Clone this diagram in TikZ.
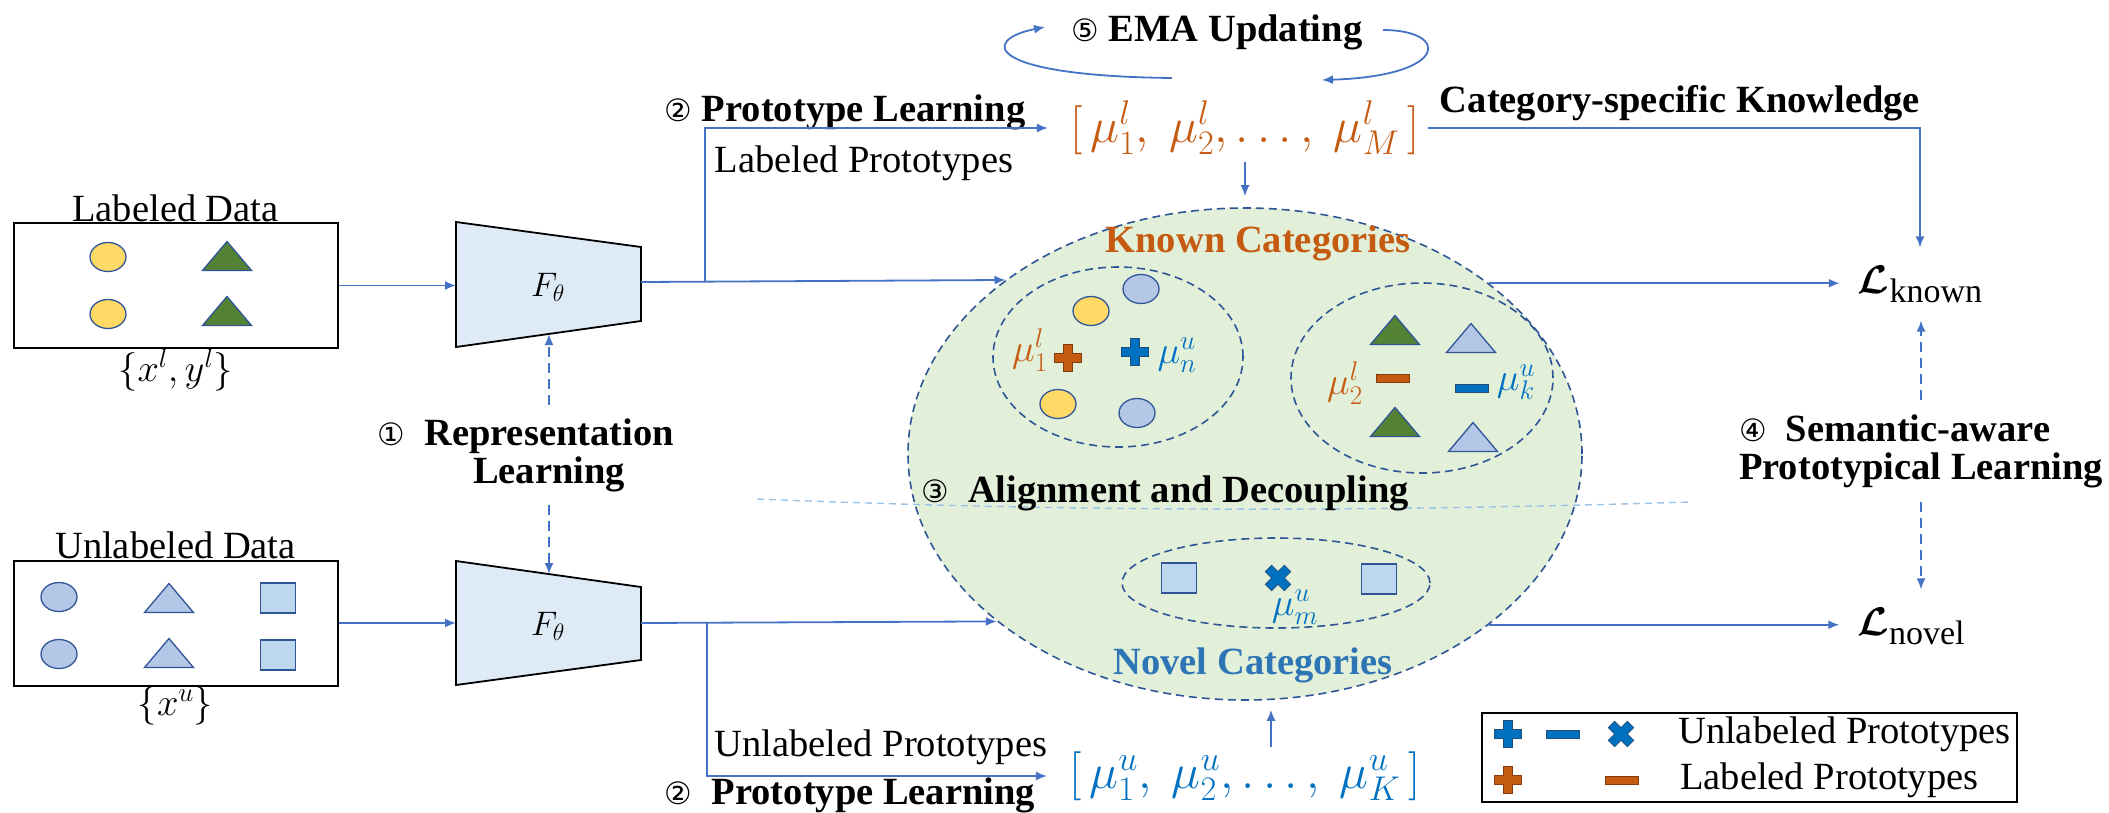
\RequirePackage{fix-cm}
\documentclass[tikz,border=0pt]{standalone}
\usepackage{fontspec}
\setmainfont{Liberation Serif}
\newfontfamily\circfont{DejaVu Sans}
\usepackage{amsmath}
\usepackage{bm}
\usepackage{tikz}
\usetikzlibrary{arrows.meta}
\usetikzlibrary{calc}
\usetikzlibrary{shapes.geometric}
\usetikzlibrary{positioning}

\definecolor{arrowblue}{HTML}{4472C4}
\definecolor{edgeblue}{HTML}{2F5597}
\definecolor{encfill}{HTML}{DEEBF7}
\definecolor{featfill}{HTML}{E2F0D9}
\definecolor{labyellow}{HTML}{FFD966}
\definecolor{labgreen}{HTML}{548235}
\definecolor{unlblue}{HTML}{B4C7E7}
\definecolor{sqblue}{HTML}{BDD7EE}
\definecolor{knownorange}{HTML}{C55A11}
\definecolor{darkorange}{HTML}{843C0C}
\definecolor{novelblue}{HTML}{2E75B6}
\definecolor{protoblue}{HTML}{0070C0}
\definecolor{darkblue}{HTML}{1F4E79}
\definecolor{splitblue}{HTML}{9DC3E6}

% circled step numbers
\newcommand{\cnum}[1]{{\circfont\mdseries\scalebox{0.8}{#1}}}
% loss symbol with its upright subscript
\newcommand{\lossname}[1]{{\fontsize{40}{40}\selectfont$\bm{\mathcal{L}}$}\raisebox{-9pt}{\fontsize{34}{34}\selectfont #1}}
% prototype marks, drawn round the current point
\newcommand{\pluspath}{++(-4.5,-13.5) -- ++(9,0) -- ++(0,9) -- ++(9,0) -- ++(0,9) -- ++(-9,0) -- ++(0,9) -- ++(-9,0) -- ++(0,-9) -- ++(-9,0) -- ++(0,-9) -- ++(9,0) -- cycle}
\newcommand{\minuspath}{++(-16.5,-4) rectangle ++(33,8)}
\newcommand{\tripath}{++(-24.5,14.5) -- ++(49,0) -- ++(-24.5,-29) -- cycle}
\newcommand{\sqpath}{++(-17.5,-15) rectangle ++(35,30)}

\begin{document}
\begin{tikzpicture}[x=1pt,y=-1pt,>={Latex[length=11pt,width=9pt]}]
		\tikzstyle{txt}=[inner sep=0pt,font=\fontsize{38.5}{38}\selectfont];
		\tikzstyle{btxt}=[inner sep=0pt,font=\fontsize{38.5}{38}\selectfont\bfseries];
		\tikzstyle{vtxt}=[inner sep=0pt,font=\fontsize{49}{49}\selectfont];
		\tikzstyle{ltxt}=[inner sep=18pt,font=\fontsize{38.5}{38}\selectfont];
		\tikzstyle{flow}=[arrowblue,line width=1.8pt];
		\tikzstyle{dashflow}=[flow,dash pattern=on 10pt off 6pt];
		\tikzstyle{databox}=[rectangle,draw,line width=2pt,minimum width=324pt,minimum height=125pt,
			label distance=10pt];
		\tikzstyle{cluster}=[ellipse,draw=edgeblue,line width=1.6pt,dash pattern=on 8pt off 5pt,inner sep=0pt];
		\tikzstyle{encoder}=[fill=encfill,draw=black,line width=1.8pt];
		\tikzstyle{shp}=[draw=edgeblue,line width=1.3pt];
		\tikzstyle{uprot}=[fill=protoblue,draw=darkblue,line width=0.8pt];
		\tikzstyle{lprot}=[fill=knownorange,draw=darkorange,line width=0.8pt];
		\useasboundingbox (0,0) rectangle (2109,812);

		% inputs
		\node[databox,label={[txt]above:Labeled Data},label={[txt]below:$\{x^l,y^l\}$}](ld) at (175.5,285.5){};
		\node[databox,label={[txt]above:Unlabeled Data},label={[txt]below:$\{x^u\}$}](ud) at (175.5,623){};
		\filldraw[shp,fill=labyellow] (108,257) ellipse[x radius=18,y radius=14.5];
		\filldraw[shp,fill=labyellow] (108,314) ellipse[x radius=18,y radius=14.5];
		\filldraw[shp,fill=labgreen] (227,256) \tripath;
		\filldraw[shp,fill=labgreen] (227,311) \tripath;
		\filldraw[shp,fill=unlblue] (59,597) ellipse[x radius=18,y radius=14.5];
		\filldraw[shp,fill=unlblue] (59,654) ellipse[x radius=18,y radius=14.5];
		\filldraw[shp,fill=unlblue] (169,598) \tripath;
		\filldraw[shp,fill=unlblue] (169,653) \tripath;
		\filldraw[shp,fill=sqblue] (278,598) \sqpath;
		\filldraw[shp,fill=sqblue] (278,655) \sqpath;

		% encoders
		\filldraw[encoder] (456,222) -- (641,247) -- (641,321) -- (456,347) -- cycle;
		\filldraw[encoder] (456,561) -- (641,587) -- (641,660) -- (456,685) -- cycle;
		\node[txt,font=\fontsize{34}{34}\selectfont](enc1) at (548,287){$F_\theta$};
		\node[txt,font=\fontsize{34}{34}\selectfont](enc2) at (548,626){$F_\theta$};
		\coordinate (enc1w) at (456,285.5);
		\coordinate (enc1e) at (641,282);
		\coordinate (enc1s) at (549,334);
		\coordinate (enc2w) at (456,623);
		\coordinate (enc2e) at (641,623);
		\coordinate (enc2n) at (549,574);
		\draw[flow,->](ld.east)--(enc1w);
		\draw[flow,->](ud.east)--(enc2w);

		\node[btxt,align=center,inner ysep=13pt](rep) at (549,455)
			{\llap{\cnum{①}\ \ }Representation\\Learning};
		\draw[dashflow,->](rep.north)--(enc1s);
		\draw[dashflow,->](rep.south)--(enc2n);

		% feature space
		\node[ellipse,fill=featfill,draw=edgeblue,line width=1.6pt,dash pattern=on 8pt off 5pt,
			inner sep=0pt,minimum width=674pt,minimum height=492pt](feat) at (1245,454){};
		\node[cluster,minimum width=250pt,minimum height=180pt](kc1) at (1118,357){};
		\node[cluster,minimum width=262pt,minimum height=190pt](kc2) at (1422,378){};
		\node[cluster,minimum width=308pt,minimum height=90pt](nc) at (1276,583){};
		\draw[splitblue,line width=1.4pt,dash pattern=on 7pt off 5pt]
			(757,499) .. controls (1100,513) and (1400,511) .. (1690,502);
		\node[btxt,knownorange](kctxt) at (1258,243){Known Categories};
		\node[btxt,novelblue](nctxt) at (1253,665){Novel Categories};
		\node[btxt](align) at (1165,493){\cnum{③}\ \ Alignment and Decoupling};

		\filldraw[shp,fill=labyellow] (1091,311) ellipse[x radius=18,y radius=14.5];
		\filldraw[shp,fill=unlblue] (1141,289) ellipse[x radius=18,y radius=14.5];
		\filldraw[shp,fill=labyellow] (1058,404) ellipse[x radius=18,y radius=14.5];
		\filldraw[shp,fill=unlblue] (1137,413) ellipse[x radius=18,y radius=14.5];
		\filldraw[lprot] (1068,358) \pluspath;
		\filldraw[uprot] (1135,352) \pluspath;
		\node[txt,knownorange](m1l) at (1030,350){$\mu^l_1$};
		\node[txt,protoblue](mnu) at (1177,355){$\mu^u_n$};

		\filldraw[shp,fill=labgreen] (1395,330) \tripath;
		\filldraw[shp,fill=labgreen] (1395,422) \tripath;
		\filldraw[shp,fill=unlblue] (1471,338) \tripath;
		\filldraw[shp,fill=unlblue] (1473,437) \tripath;
		\filldraw[lprot] (1393,378) \minuspath;
		\filldraw[uprot] (1472,388) \minuspath;
		\node[txt,knownorange](m2l) at (1345,383){$\mu^l_2$};
		\node[txt,protoblue](mku) at (1516,382){$\mu^u_k$};

		\filldraw[shp,fill=sqblue] (1179,578) \sqpath;
		\filldraw[shp,fill=sqblue] (1379,579) \sqpath;
		\filldraw[uprot,rotate around={45:(1278,578)}] (1278,578) \pluspath;
		\node[txt,protoblue](mmu) at (1295,607){$\mu^u_m$};

		\draw[flow,->](enc1e)--(feat.144.3);
		\draw[flow,->](enc2e)--(feat.214.6);

		% prototype learning
		\node[vtxt,knownorange](lproto) at (1245,128){$[\,\mu^l_1,\ \mu^l_2,\dots,\ \mu^l_M\,]$};
		\node[vtxt,protoblue](uproto) at (1245,776){$[\,\mu^u_1,\ \mu^u_2,\dots,\ \mu^u_K\,]$};
		\node[btxt](pl1) at (845,112){\cnum{②}\ Prototype Learning};
		\node[txt](lpt) at (864,163){Labeled Prototypes};
		\node[txt](upt) at (881,747){Unlabeled Prototypes};
		\node[btxt](pl2) at (850,795){\cnum{②}\ \ Prototype Learning};
		\coordinate (br1) at (705,282);
		\coordinate (br2) at (707,623);
		\draw[flow,->,shorten >=22pt](br1)|-(lproto.west);
		\draw[flow,->,shorten >=22pt](br2)|-(uproto.west);
		\draw[flow,->,shorten <=7pt,shorten >=11pt](lproto)--(feat);
		\draw[flow,->,shorten <=4pt,shorten >=9pt]([xshift=26pt]uproto.north)--([xshift=26pt]uproto.north|-feat.south);

		% EMA
		\node[btxt](ema) at (1217,32){\cnum{⑤}\ EMA Updating};
		\coordinate (ema1) at (1172,78);
		\coordinate (ema2) at (1045,27);
		\coordinate (ema3) at (1383,30);
		\coordinate (ema4) at (1322,80);
		\draw[flow,->](ema1) .. controls (985,76) and (980,40) .. (ema2);
		\draw[flow,->](ema3) .. controls (1450,30) and (1450,76) .. (ema4);

		% losses
		\node[ltxt](lknown) at (1920,284){\lossname{known}};
		\node[ltxt](lnovel) at (1911,626){\lossname{novel}};
		\node[btxt](csk) at (1680,103){Category-specific Knowledge};
		\draw[flow,->,shorten <=8pt](lproto.east)-|(lknown.north);
		\draw[flow,->](feat.35.8)--(feat.35.8-|lknown.west);
		\draw[flow,->](feat.325.4)--(feat.325.4-|lnovel.west);
		\node[btxt,align=left,inner ysep=14pt](sem) at (1921,451){\cnum{④}\ \ Semantic-aware\\Prototypical Learning};
		\draw[dashflow,->](sem.north)--(sem.north|-lknown.south);
		\draw[dashflow,->](sem.south)--(sem.south|-lnovel.north);

		% legend
		\node[rectangle,draw,line width=1.8pt,minimum width=535pt,minimum height=89pt](legend) at (1749.5,757.5){};
		\filldraw[uprot] (1508,734) \pluspath;
		\filldraw[uprot] (1563,734) \minuspath;
		\filldraw[uprot,rotate around={45:(1621,734)}] (1621,734) \pluspath;
		\filldraw[lprot] (1508,780) \pluspath;
		\filldraw[lprot] (1622,780) \minuspath;
		\node[txt,anchor=west](lgu) at (1678,734){Unlabeled Prototypes};
		\node[txt,anchor=west](lgl) at (1680,780){Labeled Prototypes};
	\end{tikzpicture}
\end{document}
